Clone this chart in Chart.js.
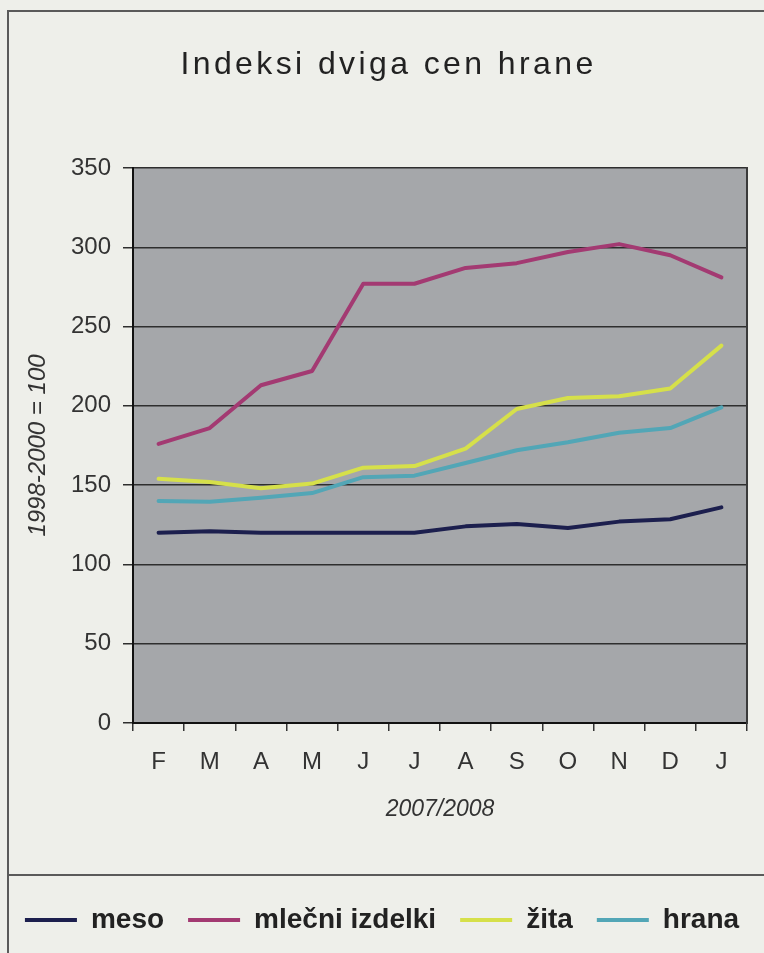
<!DOCTYPE html>
<html>
<head>
<meta charset="utf-8">
<script src="https://cdn.jsdelivr.net/npm/chart.js@4.4.1/dist/chart.umd.min.js"></script>
<style>
  html, body { margin: 0; padding: 0; background: #eeefea; }
  #wrap { width: 764px; height: 953px; }
</style>
</head>
<body>
<div id="wrap"><canvas id="prices-chart"></canvas></div>
<script>
// months Feb 2007 - Jan 2008
const months = ["F", "M", "A", "M", "J", "J", "A", "S", "O", "N", "D", "J"];
const meso = [120, 121, 120, 120, 120, 120, 124, 125.5, 123, 127, 128.5, 136];
const mlecni = [176, 186, 213, 222, 277, 277, 287, 290, 297, 302, 295, 281];
const zita = [154, 152, 148, 151, 161, 162, 173, 198, 205, 206, 211, 238];
const hrana = [140, 139.5, 142, 145, 155, 156, 164, 172, 177, 183, 186, 199];
const yTicks = [0, 50, 100, 150, 200, 250, 300, 350];

Chart.defaults.font.family = "'Liberation Sans', Arial, sans-serif";

const backdrop = {
  id: 'backdrop',
  beforeDraw(chart) {
    const ctx = chart.ctx;
    const a = chart.chartArea;
    ctx.save();
    ctx.fillStyle = '#eeefea';
    ctx.fillRect(0, 0, chart.width, chart.height);
    ctx.fillStyle = '#a5a7aa';
    ctx.fillRect(a.left, a.top, a.right - a.left, a.bottom - a.top);
    // frame round the figure
    ctx.strokeStyle = '#5a5a5a';
    ctx.lineWidth = 2;
    ctx.beginPath();
    ctx.moveTo(8, chart.height);
    ctx.lineTo(8, 11);
    ctx.lineTo(chart.width, 11);
    const sep = chart.legend.top - 7;
    ctx.moveTo(8, sep);
    ctx.lineTo(chart.width, sep);
    ctx.stroke();
    ctx.restore();
  }
};

// wide letter spacing for the title only
const spacedTitle = {
  id: 'spacedTitle',
  afterInit(chart) {
    const tb = chart.titleBlock;
    if (!tb) return;
    const draw = tb.draw.bind(tb);
    tb.draw = function (area) {
      chart.ctx.save();
      chart.ctx.letterSpacing = '3.4px';
      chart.ctx.translate(6.5, 0);
      draw(area);
      chart.ctx.restore();
    };
  }
};

function line(label, data, color) {
  return {
    label: label,
    data: data,
    borderColor: color,
    backgroundColor: color,
    borderWidth: 4,
    pointRadius: 0,
    tension: 0,
    fill: false,
    borderJoinStyle: 'round',
    borderCapStyle: 'round'
  };
}

const ctx = document.getElementById('prices-chart');

new Chart(ctx, {
  type: 'line',
  data: {
    labels: months,
    datasets: [
      line('meso', meso, '#1c1f4e'),
      line('mlečni izdelki', mlecni, '#a33a72'),
      line('žita', zita, '#d6e04a'),
      line('hrana', hrana, '#52a6b6')
    ]
  },
  options: {
    responsive: true,
    maintainAspectRatio: false,
    animation: false,
    layout: { padding: { left: 0, right: 0, top: 0, bottom: 9 } },
    plugins: {
      title: {
        display: true,
        text: 'Indeksi dviga cen hrane',
        color: '#222',
        font: { size: 32, weight: 'normal' },
        padding: { top: 45.8, bottom: 83.8 }
      },
      legend: {
        position: 'bottom',
        labels: {
          boxWidth: 52,
          boxHeight: 4,
          padding: 24,
          color: '#222',
          font: { size: 28, weight: 'bold' },
          generateLabels: function (chart) {
            return Chart.defaults.plugins.legend.labels.generateLabels(chart).map(function (item) {
              item.lineWidth = 0;
              return item;
            });
          }
        }
      },
      tooltip: { enabled: false }
    },
    scales: {
      x: {
        offset: true,
        grid: { offset: true, drawOnChartArea: false, tickLength: 8, color: '#333', lineWidth: 1.5 },
        border: { color: '#111', width: 2 },
        ticks: { color: '#333', font: { size: 24 }, padding: 16.6, maxRotation: 0, autoSkip: false },
        title: {
          display: true,
          text: '2007/2008',
          color: '#333',
          font: { size: 23, style: 'italic' },
          padding: { top: 3.2, bottom: 58.2 }
        }
      },
      y: {
        min: 0,
        max: 350,
        afterBuildTicks: function (axis) {
          axis.ticks = yTicks.map(function (v) { return { value: v }; });
        },
        afterFit: function (axis) { axis.width = 133; },
        grid: { color: '#2e2e2e', lineWidth: 1.5, tickLength: 10 },
        border: { color: '#111', width: 2 },
        ticks: { color: '#333', font: { size: 24 }, padding: 12 },
        title: {
          display: true,
          text: '1998-2000 = 100',
          color: '#333',
          font: { size: 24, style: 'italic' },
          padding: { top: 23.6, bottom: 6.6 }
        }
      },
      edge: {
        type: 'linear',
        position: 'right',
        afterFit: function (axis) { axis.width = 17; },
        grid: { drawOnChartArea: false, drawTicks: false },
        border: { display: true, color: '#3a3a3a', width: 2 },
        ticks: { display: false }
      }
    }
  },
  plugins: [backdrop, spacedTitle]
});
</script>
</body>
</html>
